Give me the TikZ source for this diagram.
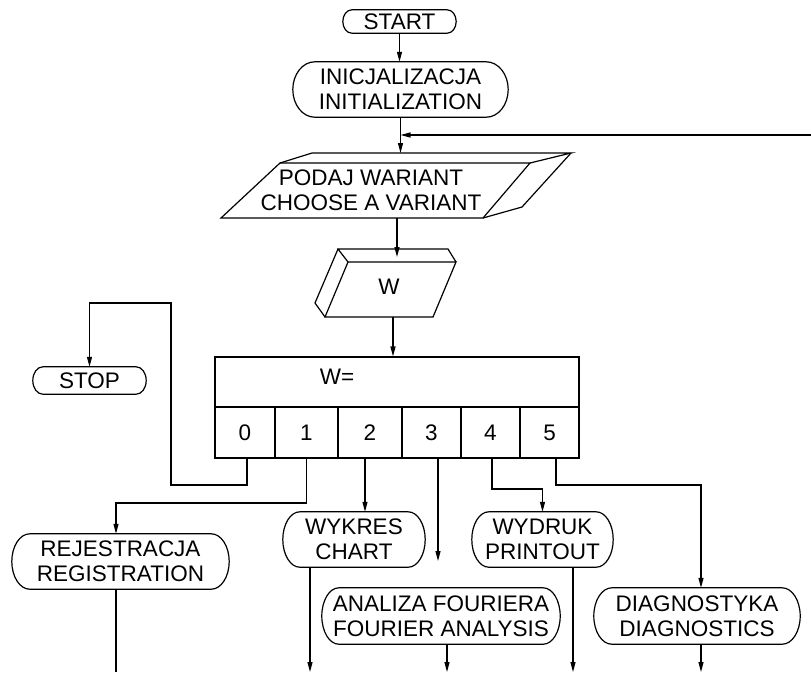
\documentclass[tikz,border=0pt]{standalone}
\usepackage{fontspec}
\setmainfont{Liberation Sans}
\usetikzlibrary{arrows.meta,calc}
\newcommand\tshape[2]{%
\draw[ln] let \p1=(#1.north west), \p2=(#1.south east),
  \n1={(\y1+\y2)/2}, \n2={#2*0.448}, \n3={(\y1-\y2)/2*0.552} in
  (\x1+#2,\y1) -- (\x2-#2,\y1)
  .. controls (\x2-\n2,\y1) and (\x2,\n1+\n3) .. (\x2,\n1)
  .. controls (\x2,\n1-\n3) and (\x2-\n2,\y2) .. (\x2-#2,\y2)
  -- (\x1+#2,\y2)
  .. controls (\x1+\n2,\y2) and (\x1,\n1-\n3) .. (\x1,\n1)
  .. controls (\x1,\n1+\n3) and (\x1+\n2,\y1) .. cycle;}
\begin{document}
\begin{tikzpicture}[x=1pt,y=-1pt,
  every node/.style={font=\fontsize{22.5}{25}\selectfont, inner sep=0pt, align=center},
  ln/.style={line width=1.2pt, line join=miter},
  arr/.style={ln, -{Triangle[length=10pt,width=5pt]}},
  term/.style={},
  cell/.style={draw, line width=1.1pt, minimum height=51pt}
]
\useasboundingbox (0,0) rectangle (811,673);
\coordinate (bot) at (0,672);

% terminals / processes
\node[term, minimum width=113pt, minimum height=23pt] (start) at (399.5,21.5) {START};
\tshape{start}{9pt}
\node[term, minimum width=215pt, minimum height=55pt] (init) at (400.5,89.5) {INICJALIZACJA\\INITIALIZATION};
\tshape{init}{22pt}

% input parallelogram (3D)
\draw[ln] (221,218) -- (280,163) -- (530,163) -- (483,218) -- cycle;
\draw[ln] (280,163) -- (312,153) -- (571,153) -- (530,163);
\draw[ln] (571,153) -- (522,207) -- (483,218);
\node (inp) at (371,190) {PODAJ WARIANT\\CHOOSE A VARIANT};

% W block (3D)
\draw[ln] (325,317) -- (348,262) -- (456,262) -- (433,317) -- cycle;
\draw[ln] (348,262) -- (338,249) -- (448,249) -- (456,262);
\draw[ln] (338,249) -- (315,303) -- (325,317);
\node (wv) at (389,287) {W};

% switch
\node[draw, line width=1.1pt, minimum width=364pt, minimum height=50pt] (hdr) at (397,382) {};
\node (weq) at (337,377) {W=};
\node[cell, minimum width=60pt] (c0) at (245,432.5) {0};
\node[cell, minimum width=63pt] (c1) at (306.5,432.5) {1};
\node[cell, minimum width=64pt] (c2) at (370,432.5) {2};
\node[cell, minimum width=59pt] (c3) at (431.5,432.5) {3};
\node[cell, minimum width=59pt] (c4) at (490.5,432.5) {4};
\node[cell, minimum width=59pt] (c5) at (549.5,432.5) {5};

\node[term, minimum width=113pt, minimum height=27pt] (stop) at (89.5,380.5) {STOP};
\tshape{stop}{10pt}
\node[term, minimum width=217pt, minimum height=55pt] (reg) at (120.5,561.5) {REJESTRACJA\\REGISTRATION};
\tshape{reg}{18pt}
\node[term, minimum width=142pt, minimum height=55pt] (wyk) at (354,539.5) {WYKRES\\CHART};
\tshape{wyk}{17pt}
\node[term, minimum width=238pt, minimum height=56pt] (four) at (441,616) {ANALIZA FOURIERA\\FOURIER ANALYSIS};
\tshape{four}{17pt}
\node[term, minimum width=141pt, minimum height=55pt] (wyd) at (542.5,539.5) {WYDRUK\\PRINTOUT};
\tshape{wyd}{17pt}
\node[term, minimum width=206pt, minimum height=56pt] (diag) at (697,616) {DIAGNOSTYKA\\DIAGNOSTICS};
\tshape{diag}{18pt}

% connectors top
\draw[arr] (start.south) -- (start.south |- init.north);
\coordinate (inptop) at (400.5,153);
\draw[arr] (init.south) -- (inptop);
\coordinate (fb) at (811,135);
\draw[arr] (fb) -- (fb -| init.south);
\coordinate (inpbot) at (397,218);
\coordinate (wtop) at (397,257);
\draw[arr] (inpbot) -- (wtop);
\coordinate (wbot) at (393,317);
\draw[arr] (wbot) -- (wbot |- hdr.north);

% branch 0 -> STOP
\coordinate (k0) at (171,485);
\coordinate (k1) at (171,303);
\draw[arr] ([xshift=2pt]c0.south) |- (k0) -- (k1) -| (stop.north);

% branch 1 -> REJESTRACJA
\coordinate (k2) at (116,503);
\draw[arr] (c1.south) |- (k2) -- (k2 |- reg.north);
\draw[ln] (k2 |- reg.south) -- (k2 |- bot);

% branch 2 -> WYKRES
\coordinate (k3) at (365,0);
\draw[arr] (k3 |- c2.south) -- (k3 |- wyk.north);
\coordinate (k4) at (310,0);
\draw[arr] (k4 |- wyk.south) -- (k4 |- bot);

% branch 3
\coordinate (k5) at (438,561);
\draw[arr] (k5 |- c3.south) -- (k5);
\coordinate (k6) at (447,0);
\draw[arr] (k6 |- four.south) -- (k6 |- bot);

% branch 4 -> WYDRUK
\coordinate (k7) at (492,489);
\draw[arr] (k7 |- c4.south) -- (k7) -| (wyd.north);
\coordinate (k8) at (573,0);
\draw[arr] (k8 |- wyd.south) -- (k8 |- bot);

% branch 5 -> DIAGNOSTYKA
\coordinate (k9) at (556,485);
\coordinate (k10) at (701,485);
\draw[arr] (k9 |- c5.south) -- (k9) -- (k10) -- (k10 |- diag.north);
\draw[arr] (k10 |- diag.south) -- (k10 |- bot);
\end{tikzpicture}
\end{document}
